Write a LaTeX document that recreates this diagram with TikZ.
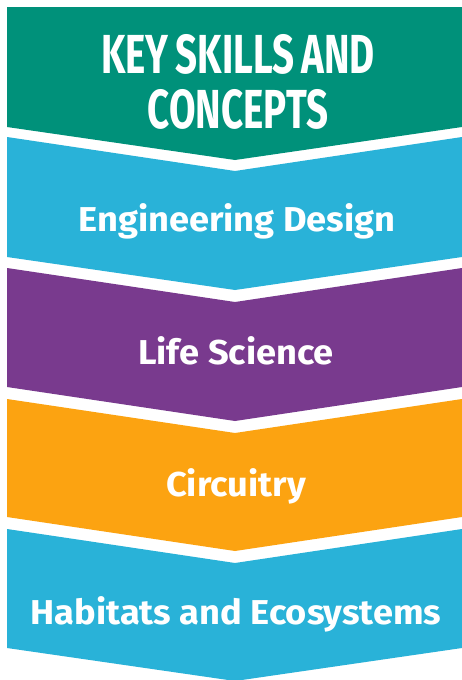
\documentclass[tikz,border=0pt]{standalone}
\usepackage{fontspec}
\setmainfont{Fira Sans}
\newfontfamily\condfont[FakeStretch=0.70,WordSpace=0.8]{Fira Sans}
\newfontfamily\bodyfont[FakeStretch=1.05]{Fira Sans}
\definecolor{kgreen}{HTML}{00917A}
\definecolor{kcyan}{HTML}{29B2D8}
\definecolor{kpurple}{HTML}{793A8E}
\definecolor{korange}{HTML}{FCA311}
\tikzset{
  lbl/.style={text=white, font=\bodyfont\fontsize{34.5}{40}\selectfont\bfseries, anchor=base, inner sep=0pt},
  ttl/.style={text=white, font=\condfont\fontsize{55}{55}\selectfont\bfseries, anchor=base, inner sep=0pt}
}
\begin{document}
\begin{tikzpicture}[x=1pt,y=-1pt]
\useasboundingbox (0,0) rectangle (462,680);
\fill[white] (0,0) rectangle (462,680);
% green header
\fill[kgreen] (7,7) -- (462,7) -- (462,127) -- (235,160) -- (7,127) -- cycle;
% bands
\fill[kcyan] (7,137) -- (235,171) -- (462,137) -- (462,257) -- (235,290) -- (7,257) -- cycle;
\fill[kpurple] (7,268) -- (235,302) -- (462,268) -- (462,387) -- (235,421) -- (7,387) -- cycle;
\fill[korange] (7,399) -- (235,433) -- (462,399) -- (462,517) -- (235,551) -- (7,517) -- cycle;
\fill[kcyan] (7,529) -- (235,563) -- (462,529) -- (462,648) -- (235,681) -- (7,648) -- cycle;
% texts
\node[ttl] (t1) at (238,73) {KEY SKILLS AND};
\node[ttl] (t2) at (238,128) {CONCEPTS};
\node[lbl] (eng) at (237,231) {Engineering Design};
\node[lbl] (life) at (236,364) {Life Science};
\node[lbl] (circ) at (236,496) {Circuitry};
\node[lbl] (hab) at (236,624) {Habitats and Ecosystems};
\end{tikzpicture}
\end{document}
